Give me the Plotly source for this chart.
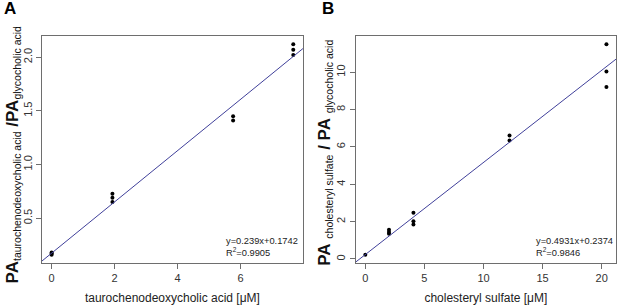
import plotly.graph_objects as go

# ---- Data ----
a_x = [0, 0, 0, 1.93, 1.93, 1.93, 5.76, 5.76, 7.67, 7.67, 7.67]
a_y = [0.16, 0.17, 0.18, 0.65, 0.69, 0.727, 1.41, 1.45, 2.02, 2.07, 2.12]
a_slope, a_int = 0.239, 0.1742
a_eq = ["y=0.239x+0.1742", "R<sup>2</sup>=0.9905"]

b_x = [0, 2.0, 2.0, 2.0, 4.07, 4.07, 4.07, 12.2, 12.2, 20.4, 20.4, 20.4]
b_y = [0.23, 1.35, 1.45, 1.57, 1.84, 2.02, 2.47, 6.34, 6.61, 9.2, 10.04, 11.49]
b_slope, b_int = 0.4931, 0.2374
b_eq = ["y=0.4931x+0.2374", "R<sup>2</sup>=0.9846"]

a_xticks = [0, 2, 4, 6]
a_yticks = [0.5, 1.0, 1.5, 2.0]
b_xticks = [0, 5, 10, 15, 20]
b_yticks = [0, 2, 4, 6, 8, 10]

FONT = "Liberation Sans, Arial, sans-serif"
LINE_COLOR = "#40409a"
BOX = "#6e6e6e"


def rrange(v):
    lo, hi = min(v), max(v)
    s = hi - lo
    return [lo - 0.04 * s, hi + 0.04 * s]


a_xr, a_yr = rrange(a_x), rrange(a_y)
b_xr, b_yr = rrange(b_x), rrange(b_y)

fig = go.Figure()

# Panel A
fig.add_trace(go.Scatter(x=a_x, y=a_y, mode="markers", xaxis="x", yaxis="y",
                         marker=dict(color="black", size=4), showlegend=False))
fig.add_trace(go.Scatter(x=a_xr, y=[a_slope * v + a_int for v in a_xr], mode="lines",
                         xaxis="x", yaxis="y", line=dict(color=LINE_COLOR, width=1),
                         showlegend=False))
# Panel B
fig.add_trace(go.Scatter(x=b_x, y=b_y, mode="markers", xaxis="x2", yaxis="y2",
                         marker=dict(color="black", size=4), showlegend=False))
fig.add_trace(go.Scatter(x=b_xr, y=[b_slope * v + b_int for v in b_xr], mode="lines",
                         xaxis="x2", yaxis="y2", line=dict(color=LINE_COLOR, width=1),
                         showlegend=False))

axis_common = dict(showgrid=False, zeroline=False, showline=True, mirror=True,
                   linecolor=BOX, linewidth=1, ticks="outside", ticklen=5,
                   tickcolor=BOX, tickfont=dict(size=11, color="#333", family=FONT))

SUB = "<sub><span style='font-size:10.5px'>{}</span></sub>"
a_ytitle = ("<b>PA</b>" + SUB.format("taurochenodeoxycholic acid") +
            " <b>/PA</b>" + SUB.format("glycocholic acid"))
b_ytitle = ("<b>PA</b> " + SUB.format("cholesteryl sulfate") +
            " <b>/ PA</b> " + SUB.format("glycocholic acid"))

fig.update_layout(
    width=617, height=307,
    margin=dict(l=0, r=0, t=0, b=0),
    paper_bgcolor="white", plot_bgcolor="white",
    font=dict(family=FONT, color="#222"),
    xaxis=dict(domain=[0.068, 0.491], range=a_xr, tickvals=a_xticks,
               title=dict(text="taurochenodeoxycholic acid [μM]", font=dict(size=12),
                          standoff=10),
               anchor="y", **axis_common),
    yaxis=dict(domain=[0.143, 0.883], range=a_yr, tickvals=a_yticks,
               ticktext=["0.5", "1.0", "1.5", "2.0"], tickangle=-90,
               anchor="x", **axis_common),
    xaxis2=dict(domain=[0.5765, 0.9985], range=b_xr, tickvals=b_xticks,
                title=dict(text="cholesteryl sulfate [μM]", font=dict(size=12),
                           standoff=10),
                anchor="y2", **axis_common),
    yaxis2=dict(domain=[0.143, 0.883], range=b_yr, tickvals=b_yticks, tickangle=-90,
                anchor="x2", **axis_common),
)

annotations = [
    dict(text="<b>A</b>", x=0.004, y=1.0, xref="paper", yref="paper",
         xanchor="left", yanchor="top", showarrow=False, yshift=3,
         font=dict(size=17, color="black")),
    dict(text="<b>B</b>", x=0.518, y=1.0, xref="paper", yref="paper",
         xanchor="left", yanchor="top", showarrow=False, yshift=3,
         font=dict(size=17, color="black")),
    dict(text=a_ytitle, x=0.021, y=0.497, xref="paper", yref="paper",
         xanchor="center", yanchor="middle", textangle=-90, showarrow=False,
         font=dict(size=17, color="#111")),
    dict(text=b_ytitle, x=0.527, y=0.503, xref="paper", yref="paper",
         xanchor="center", yanchor="middle", textangle=-90, showarrow=False,
         font=dict(size=17, color="#111")),
]
for i, t in enumerate(a_eq):
    annotations.append(dict(text=t, x=0.3625, y=0.214 - i * 0.034, xref="paper",
                            yref="paper", xanchor="left", yanchor="middle",
                            showarrow=False, font=dict(size=9.3, color="#222")))
for i, t in enumerate(b_eq):
    annotations.append(dict(text=t, x=0.865, y=0.214 - i * 0.034, xref="paper",
                            yref="paper", xanchor="left", yanchor="middle",
                            showarrow=False, font=dict(size=9.3, color="#222")))
fig.update_layout(annotations=annotations)

fig.write_html("out.html", config={"displayModeBar": False},
               post_script="document.body.style.margin='0';"
                           "document.body.style.overflow='hidden';")
